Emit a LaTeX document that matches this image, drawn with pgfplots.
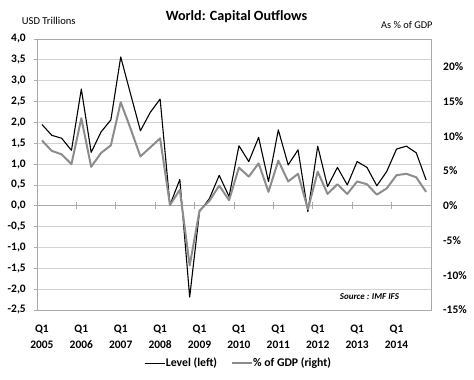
\documentclass[border=0pt]{standalone}
\usepackage{fontspec}
\setmainfont{Carlito}
\usepackage{pgfplots}
\usepackage{pgfplotstable}
\pgfplotsset{compat=1.18}
\definecolor{gridc}{RGB}{210,210,210}
\definecolor{axc}{RGB}{170,170,170}
\definecolor{pctc}{RGB}{140,140,140}

\pgfplotstableread{
q level
0 1.95
1 1.69
2 1.62
3 1.33
4 2.80
5 1.28
6 1.77
7 2.06
8 3.57
9 2.68
10 1.80
11 2.24
12 2.56
13 0.02
14 0.63
15 -2.19
16 -0.14
17 0.17
18 0.73
19 0.22
20 1.44
21 1.06
22 1.64
23 0.58
24 1.82
25 0.98
26 1.34
27 -0.14
28 1.43
29 0.46
30 0.92
31 0.50
32 1.06
33 0.92
34 0.48
35 0.82
36 1.36
37 1.43
38 1.27
39 0.62
}\leveltable

\pgfplotstableread{
q pct
0 9.4
1 7.9
2 7.4
3 6.0
4 12.6
5 5.6
6 7.6
7 8.7
8 14.9
9 11.1
10 7.1
11 8.4
12 9.7
13 0.1
14 2.3
15 -8.6
16 -0.7
17 0.7
18 2.9
19 0.8
20 5.5
21 4.2
22 6.1
23 2.0
24 6.5
25 3.5
26 4.6
27 -0.5
28 4.9
29 1.7
30 3.1
31 1.7
32 3.5
33 3.1
34 1.6
35 2.5
36 4.4
37 4.6
38 4.1
39 2.0
}\pcttable

\begin{document}
\begin{tikzpicture}
\useasboundingbox (0,0) rectangle (474bp,380bp);
\begin{axis}[
  at={(37bp,70bp)}, anchor=south west,
  scale only axis, width=394bp, height=271bp,
  xmin=-0.5, xmax=39.5, ymin=-2.5, ymax=4,
  ytick distance=0.5,
  ymajorgrids, grid style={gridc, line width=0.8pt},
  axis line style={axc, line width=0.8pt},
  xtick={0,4,...,36},
  xticklabels={{Q1\\2005},{Q1\\2006},{Q1\\2007},{Q1\\2008},{Q1\\2009},{Q1\\2010},{Q1\\2011},{Q1\\2012},{Q1\\2013},{Q1\\2014}},
  xticklabel style={align=center, font=\fontsize{11.5}{16}\selectfont\bfseries, inner sep=0pt},
  xtick style={draw=none},
  xtick pos=bottom,
  ytick pos=left,
  tick align=outside,
  major tick length=3bp,
  ytick style={axc, line width=0.8pt},
  tick label style={font=\fontsize{11.5}{13}\selectfont\bfseries},
  yticklabel style={inner sep=0pt, /pgf/number format/.cd, use comma, fixed, fixed zerofill, precision=1, assume math mode=true},
  yticklabel shift=8bp,
  xticklabel shift=12bp,
  legend columns=2,
  legend style={draw=none, fill=none, at={(0.51,-0.196)}, anchor=center,
    font=\fontsize{11.8}{13}\selectfont\bfseries, inner sep=0pt,
    nodes={inner sep=0.5pt},
    /tikz/every even column/.append style={column sep=13bp}},
  legend image code/.code={\draw[#1] (0bp,0bp) -- (20bp,0bp);},
  legend cell align=left,
]
\draw[axc, line width=0.8pt] (axis cs:-0.5,0) -- (axis cs:39.5,0);
\pgfplotsinvokeforeach{3.5,7.5,11.5,15.5,19.5,23.5,27.5,31.5,35.5}{
  \draw[axc, line width=0.8pt] (axis cs:#1,-0.08) -- (axis cs:#1,0.08);
}
\addplot[black, line width=1.1pt, line join=round] table[x=q, y=level] {\leveltable};
\addlegendentry{Level (left)}
\addlegendimage{pctc, line width=2pt}
\addlegendentry{\% of GDP (right)}
\node[anchor=east, font=\fontsize{9}{11}\selectfont\bfseries\itshape] at (axis cs:36.6,-2.19) {Source : IMF IFS};
\end{axis}
\begin{axis}[
  at={(37bp,70bp)}, anchor=south west,
  scale only axis, width=394bp, height=271bp,
  xmin=-0.5, xmax=39.5, ymin=-15, ymax=24,
  hide x axis,
  axis y line*=right,
  y axis line style={draw=none},
  ytick={-15,-10,...,20},
  major tick length=0pt,
  ytick style={draw=none},
  yticklabel={\pgfmathprintnumber{\tick}\%},
  yticklabel style={inner sep=0pt, anchor=west, font=\fontsize{11.5}{13}\selectfont\bfseries, /pgf/number format/assume math mode=true},
  yticklabel shift=12bp,
]
\addplot[pctc, line width=2pt, line join=round] table[x=q, y=pct] {\pcttable};
\end{axis}
\node[font=\fontsize{14.2}{16}\selectfont\bfseries] at (236.5bp,363bp) {World: Capital Outflows};
\node[anchor=west, inner sep=0pt, font=\fontsize{10.6}{12}\selectfont] at (21.7bp,359bp) {USD Trillions};
\node[anchor=west, inner sep=0pt, font=\fontsize{10.4}{12}\selectfont] at (381bp,355bp) {As \% of GDP};
\end{tikzpicture}
\end{document}
